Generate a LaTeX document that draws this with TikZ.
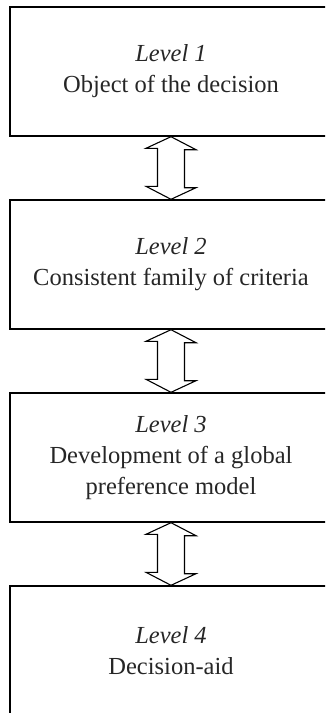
\documentclass[tikz,border=0pt]{standalone}
\usepackage{fontspec}
\setmainfont{Liberation Serif}
\begin{document}
\begin{tikzpicture}[x=1pt,y=-1pt,
  levelbox/.style={draw=black, line width=1.4pt, minimum width=322pt, minimum height=129pt,
    inner sep=0pt, align=center, text=black!85, font=\fontsize{24.5}{31}\selectfont},
  dblarrow/.style={draw=black, line width=1.1pt, fill=white, line join=miter}]
\useasboundingbox (0,0) rectangle (325,713);
\clip (0,0) rectangle (325,713);
\node[levelbox] (b1) at (171,71.5) {\textit{Level 1}\\Object of the decision};
\node[levelbox] (b2) at (171,264.5) {\textit{Level 2}\\Consistent family of criteria};
\node[levelbox] (b3) at (171,457.5) {\textit{Level 3}\\Development of a global\\preference model};
\node[levelbox] (b4) at (171,650.5) {\textit{Level 4}\\Decision-aid};
\foreach \a/\b in {b1/b2, b2/b3, b3/b4}{
  \draw[dblarrow] (\a.south) -- ++(25,13) -- ++(-11.5,0) -- ++(0,38) -- ++(11.5,0) -- (\b.north)
    -- ++(-25,-13) -- ++(11.5,0) -- ++(0,-38) -- ++(-11.5,0) -- cycle;
}
\end{tikzpicture}
\end{document}
